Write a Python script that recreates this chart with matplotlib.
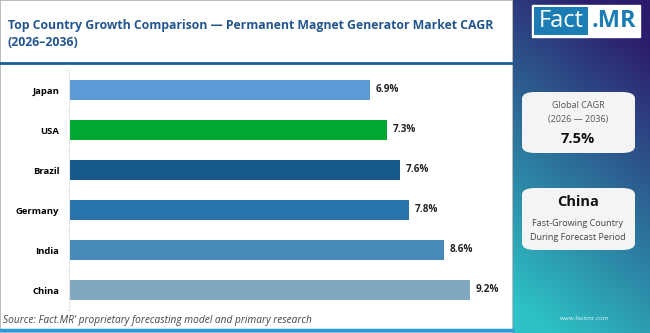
import matplotlib.pyplot as plt
import numpy as np
from matplotlib.patches import FancyBboxPatch, Rectangle

countries = ['Japan', 'USA', 'Brazil', 'Germany', 'India', 'China']
cagr = [6.9, 7.3, 7.6, 7.8, 8.6, 9.2]
bar_colors = ['#5b9bd5', '#00a832', '#165a8c', '#2a74ac', '#468bb8', '#7fa7bf']
labels = [f'{v}%' for v in cagr]

global_cagr = '7.5%'
top_country = 'China'

plt.rcParams['font.family'] = ['Open Sans', 'DejaVu Sans']

W, H = 650, 333
fig = plt.figure(figsize=(6.5, 3.33), dpi=100)
fig.patch.set_facecolor('white')

def fx(px):
  return px / W

def fy(py):
  return 1 - py / H

# left panel frame
fig.add_artist(Rectangle((0, 0), fx(513), 1, transform=fig.transFigure,
                         facecolor='none', edgecolor='#b0b0b0', lw=1.2, zorder=-1))
# line under title
fig.add_artist(plt.Line2D([0, fx(512)], [fy(63), fy(63)], transform=fig.transFigure,
                          color='#1f5d99', lw=2))
# bottom line
fig.add_artist(plt.Line2D([0, fx(512)], [fy(330), fy(330)], transform=fig.transFigure,
                          color='#2a9ad8', lw=2.5))

fig.text(fx(8), fy(25), 'Top Country Growth Comparison \u2014 Permanent Magnet Generator Market CAGR',
         color='#22558f', fontsize=8.8, fontweight='bold', va='center')
fig.text(fx(8), fy(43), '(2026\u20132036)', color='#22558f', fontsize=8.8,
         fontweight='bold', va='center')

# bar chart
ax = fig.add_axes([fx(69), fy(310), fx(505) - fx(69), (310 - 70) / H])
y = np.arange(len(countries))
rects = ax.barh(y, cagr, height=0.5, color=bar_colors)
ax.set_yticks(y, countries, fontsize=6.8, fontweight='bold')
ax.set_yticks(np.arange(len(countries) + 1) - 0.5, minor=True)
ax.set_ylim(len(countries) - 0.5, -0.5)
ax.set_xlim(0, 10)
ax.set_xticks([])
ax.bar_label(rects, labels=labels, padding=4, fontsize=7.2, fontweight='bold',
             color='#222222')
for s in ['top', 'right', 'bottom']:
  ax.spines[s].set_visible(False)
ax.spines['left'].set_color('#e6e6e6')
ax.tick_params(axis='y', which='major', length=0, pad=7)
ax.tick_params(axis='y', which='minor', length=2, color='#e0e0e0')
ax.set_facecolor('none')

fig.text(fx(3), fy(320), "Source: Fact.MR' proprietary forecasting model and primary research",
         fontsize=7.3, style='italic', color='#444444', va='center')

# right panel gradient
rp = fig.add_axes([fx(513), 0, 1 - fx(513), 1])
gx, gy = np.meshgrid(np.linspace(0, 1, 100), np.linspace(0, 1, 200))
t = np.clip(gy * 0.9 + (1 - gx) * 0.3 - 0.12, 0, 1)
top = np.array([0x2c, 0x1c, 0x6c]) / 255
bot = np.array([0x2d, 0xc2, 0xc6]) / 255
img = top + (bot - top) * t[..., None]
rp.imshow(img, aspect='auto', extent=[0, 1, 1, 0])
rp.set_xlim(0, 1)
rp.set_ylim(1, 0)
rp.axis('off')

# logo
fig.add_artist(Rectangle((fx(532), fy(37)), fx(640) - fx(532), (37 - 5) / H,
                         transform=fig.transFigure, facecolor='white', edgecolor='white'))
fig.add_artist(Rectangle((fx(534), fy(35)), fx(588) - fx(534), (35 - 7) / H,
                         transform=fig.transFigure, facecolor='#1b7db4', edgecolor='none'))
fig.text(fx(561), fy(21), 'Fact', color='white', fontsize=17, ha='center', va='center')
fig.text(fx(614), fy(21), '.MR', color='#1b7db4', fontsize=17, fontweight='bold',
         ha='center', va='center')

# info boxes
for (y0, y1) in [(92, 153), (188, 250)]:
  fig.add_artist(FancyBboxPatch((fx(522), fy(y1)), fx(635) - fx(522), (y1 - y0) / H,
                                boxstyle='round,pad=0,rounding_size=0.02',
                                transform=fig.transFigure, facecolor='#f4f4f4',
                                edgecolor='none'))
fig.text(fx(578), fy(106), 'Global CAGR', fontsize=6.5, color='#555555', ha='center', va='center')
fig.text(fx(578), fy(119), '(2026 \u2014 2036)', fontsize=6.5, color='#555555', ha='center', va='center')
fig.text(fx(578), fy(139), global_cagr, fontsize=10.5, fontweight='bold', color='#111111',
         ha='center', va='center')
fig.text(fx(578), fy(202), top_country, fontsize=10.5, fontweight='bold', color='#111111',
         ha='center', va='center')
fig.text(fx(578), fy(224), 'Fast-Growing Country', fontsize=6.5, color='#444444',
         ha='center', va='center')
fig.text(fx(578), fy(237), 'During Forecast Period', fontsize=6.5, color='#444444',
         ha='center', va='center')
fig.text(fx(585), fy(318), 'www.factmr.com', fontsize=4.5, color='#e8f4f8',
         ha='center', va='center')

fig.savefig('out.png', dpi=100)
